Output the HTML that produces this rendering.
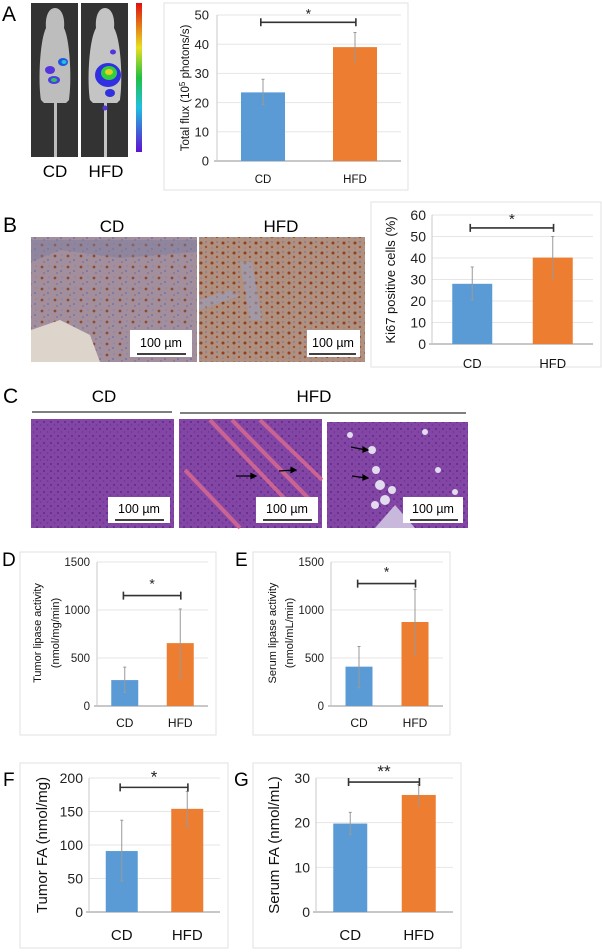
<!DOCTYPE html>
<html><head><meta charset="utf-8"><style>
html,body{margin:0;padding:0;background:#fff;}
svg{display:block;font-family:"Liberation Sans",Arial,sans-serif;}
</style></head><body>
<svg id="fig" width="602" height="952" viewBox="0 0 602 952" xmlns="http://www.w3.org/2000/svg">
<defs>
<pattern id="ihcCD" width="13" height="11" patternUnits="userSpaceOnUse">
<rect width="13" height="11" fill="#a38e9c"/><circle cx="3" cy="3" r="1.4" fill="#8a4a34"/><circle cx="9" cy="7" r="1.1" fill="#7a78a8"/><circle cx="10" cy="2" r="0.8" fill="#8482b0"/><circle cx="5" cy="9" r="0.9" fill="#7e70a0"/>
</pattern>
<pattern id="ihcHFD" width="11" height="10" patternUnits="userSpaceOnUse">
<rect width="11" height="10" fill="#b0907e"/><circle cx="3" cy="3" r="1.5" fill="#8e4020"/><circle cx="8" cy="7" r="1.2" fill="#a05030"/><circle cx="8" cy="2" r="0.9" fill="#7a78a8"/><circle cx="3" cy="8" r="0.8" fill="#8280a8"/>
</pattern>
<pattern id="he" width="7" height="7" patternUnits="userSpaceOnUse">
<rect width="7" height="7" fill="#8446a4"/><circle cx="2" cy="2" r="1.1" fill="#632f90"/><circle cx="5.5" cy="5" r="0.9" fill="#6c3696"/>
</pattern>
<linearGradient id="cbar" x1="0" y1="0" x2="0" y2="1"><stop offset="0" stop-color="#e01010"/><stop offset="0.3" stop-color="#e8e020"/><stop offset="0.5" stop-color="#20c040"/><stop offset="0.7" stop-color="#20c0e0"/><stop offset="1" stop-color="#6010d0"/></linearGradient>
</defs>

<text x="2" y="21" font-size="21">A</text>
<g>
<rect x="31" y="3" width="47" height="154" fill="#333"/>
<rect x="81" y="3" width="47" height="154" fill="#333"/>
<path d="M55,8 C48,8 45,18 46,28 C40,40 38,80 41,100 L44,103 L66,103 L69,100 C72,80 70,40 64,28 C65,18 62,8 55,8Z" fill="#bdbdbd"/><rect x="54" y="100" width="3" height="57" fill="#bdbdbd"/>
<path d="M105,8 C98,8 95,18 96,28 C89,40 87,80 90,100 L93,103 L117,103 L120,100 C123,80 121,40 114,28 C115,18 112,8 105,8Z" fill="#c4c4c4"/><rect x="104" y="100" width="3" height="57" fill="#c4c4c4"/>
<ellipse cx="50" cy="70" rx="5" ry="4" fill="#5533dd"/><ellipse cx="63" cy="62" rx="5" ry="4" fill="#2255e0"/><ellipse cx="64" cy="62" rx="2.5" ry="2" fill="#20c0e0"/><ellipse cx="54" cy="80" rx="6" ry="4" fill="#4a40e0"/><ellipse cx="54" cy="80" rx="3" ry="2" fill="#30c060"/>
<ellipse cx="108" cy="75" rx="13" ry="12" fill="#3030e0"/><ellipse cx="109" cy="73" rx="8" ry="7" fill="#30d040"/><ellipse cx="109" cy="72" rx="4" ry="3" fill="#e8d020"/><ellipse cx="110" cy="93" rx="5" ry="4" fill="#3030e0"/><ellipse cx="113" cy="52" rx="3" ry="2.5" fill="#5533dd"/><ellipse cx="105" cy="108" rx="2.5" ry="2.5" fill="#5533dd"/>
<rect x="136" y="3" width="6" height="149" fill="url(#cbar)"/>
<text x="55" y="177" font-size="17" text-anchor="middle">CD</text>
<text x="106" y="177" font-size="17" text-anchor="middle">HFD</text>
</g>

<text x="3" y="232" font-size="21">B</text>
<text x="112" y="232" font-size="17" text-anchor="middle">CD</text>
<text x="281" y="232" font-size="17" text-anchor="middle">HFD</text>
<rect x="31" y="237" width="166" height="125" fill="url(#ihcCD)"/>
<path d="M31,240 L197,240 L197,252 L120,258 L60,250 L31,262Z" fill="#7c7c9c" opacity="0.5"/>
<path d="M31,330 L60,320 L90,335 L100,362 L31,362Z" fill="#ddd4cc"/>
<rect x="199" y="237" width="166" height="125" fill="url(#ihcHFD)"/>
<path d="M240,262 L252,262 L262,320 L250,320Z M199,300 L230,290 L240,296 L199,310Z" fill="#9aa0c0" opacity="0.6"/>
<g><rect x="130" y="330" width="62" height="27" fill="#fff"/><text x="161" y="347" font-size="12.5" text-anchor="middle">100 µm</text><line x1="137" y1="354" x2="186" y2="354" stroke="#000" stroke-width="1.5"/></g>
<g><rect x="307" y="330" width="53" height="27" fill="#fff"/><text x="333" y="347" font-size="12.5" text-anchor="middle">100 µm</text><line x1="309" y1="354" x2="356" y2="354" stroke="#000" stroke-width="1.5"/></g>

<text x="3" y="403" font-size="21">C</text>
<text x="104" y="402" font-size="17" text-anchor="middle">CD</text>
<text x="314" y="402" font-size="17" text-anchor="middle">HFD</text>
<line x1="32" y1="412" x2="172" y2="412" stroke="#333" stroke-width="1.2"/>
<line x1="180" y1="413" x2="466" y2="413" stroke="#333" stroke-width="1.2"/>
<rect x="31" y="419" width="143" height="109" fill="url(#he)"/>
<rect x="179" y="419" width="143" height="109" fill="url(#he)"/>
<g stroke="#d86a90" stroke-width="4" opacity="0.85"><line x1="210" y1="420" x2="305" y2="520"/><line x1="232" y1="420" x2="315" y2="505"/><line x1="260" y1="420" x2="322" y2="480"/><line x1="185" y1="470" x2="240" y2="528"/></g>
<rect x="327" y="422" width="141" height="106" fill="url(#he)"/>
<g fill="#e2dcee"><circle cx="350" cy="435" r="3"/><circle cx="372" cy="450" r="4"/><circle cx="376" cy="470" r="4"/><circle cx="380" cy="485" r="5"/><circle cx="385" cy="500" r="5"/><circle cx="392" cy="490" r="4"/><circle cx="375" cy="505" r="4"/><circle cx="425" cy="432" r="3"/><circle cx="438" cy="470" r="3"/><circle cx="455" cy="492" r="3"/></g>
<path d="M375,528 L395,505 L415,528Z" fill="#c8b8dc"/>
<g stroke="#000" stroke-width="1.2" fill="#000"><line x1="236" y1="476" x2="254" y2="476"/><path d="M256,476 l-5,-2.5 v5z"/><line x1="279" y1="471" x2="294" y2="470"/><path d="M296,470 l-5,-2.5 v5z"/><line x1="351" y1="447" x2="366" y2="450"/><path d="M368,450 l-5,-3 v5z"/><line x1="352" y1="476" x2="366" y2="478"/><path d="M368,478 l-5,-3 v5z"/></g>
<g><rect x="108" y="497" width="62" height="26" fill="#fff"/><text x="139" y="513" font-size="12.5" text-anchor="middle">100 µm</text><line x1="115" y1="520" x2="164" y2="520" stroke="#000" stroke-width="1.5"/></g>
<g><rect x="256" y="497" width="62" height="26" fill="#fff"/><text x="287" y="513" font-size="12.5" text-anchor="middle">100 µm</text><line x1="263" y1="520" x2="312" y2="520" stroke="#000" stroke-width="1.5"/></g>
<g><rect x="403" y="497" width="60" height="26" fill="#fff"/><text x="433" y="513" font-size="12.5" text-anchor="middle">100 µm</text><line x1="410" y1="520" x2="458" y2="520" stroke="#000" stroke-width="1.5"/></g>

<text x="2" y="566" font-size="19">D</text>
<text x="235" y="566" font-size="19">E</text>
<text x="3" y="786" font-size="19">F</text>
<text x="234" y="786" font-size="19">G</text>
<g id="charts"></g>
</svg>
<script>
const categories = ["CD", "HFD"];
const aValues = [23.5, 39];
const aErrLow = [19.3, 34.3];
const aErrHigh = [28, 44];
const aTicks = [0, 10, 20, 30, 40, 50];
const bValues = [28, 40.2];
const bErrLow = [20.5, 30.5];
const bErrHigh = [35.8, 50];
const bTicks = [0, 10, 20, 30, 40, 50, 60];
const dValues = [270, 655];
const dErrLow = [140, 295];
const dErrHigh = [405, 1010];
const dTicks = [0, 500, 1000, 1500];
const eValues = [410, 875];
const eErrLow = [190, 540];
const eErrHigh = [620, 1215];
const eTicks = [0, 500, 1000, 1500];
const fValues = [91, 154];
const fErrLow = [46, 127];
const fErrHigh = [137, 180];
const fTicks = [0, 50, 100, 150, 200];
const gValues = [19.8, 26.2];
const gErrLow = [17.3, 24];
const gErrHigh = [22.3, 28.5];
const gTicks = [0, 10, 20, 30];
const bracketValues = [47.5, 54, 1150, 1275, 186, 29.1];
const starLabels = ["*", "*", "*", "*", "*", "**"];

const NS = "http://www.w3.org/2000/svg";
const root = document.getElementById("charts");
function mk(tag, attrs, parent, text) {
  const e = document.createElementNS(NS, tag);
  for (const k in attrs) e.setAttribute(k, attrs[k]);
  if (text !== undefined) e.textContent = text;
  parent.appendChild(e);
  return e;
}
function drawChart(id, L, vals, lo, hi, ticks, bi) {
  const g = mk("g", {}, root);
  
  
  const box = mk("rect", {x: L.bx, y: L.by, width: L.bw, height: L.bh, fill: "#fff", stroke: "#e2e2e2"}, g);
  
  
  const yMax = ticks[ticks.length - 1];
  const y = v => L.y0 - (v / yMax) * (L.y0 - L.yTop);
  const band = (L.x1 - L.x0) / categories.length;
  const xc = i => L.x0 + (i + 0.5) * band;
  ticks.forEach(t => {
    if (t > 0) {
      const gl = mk("line", {x1: L.x0, x2: L.x1, y1: y(t), y2: y(t), stroke: "#e6e6e6", "stroke-width": 1}, g);
      
      
    }
    const tl = mk("text", {x: L.x0 - L.tickGap, y: y(t) + L.tf * 0.36, "font-size": L.tf, "text-anchor": "end", fill: "#222"}, g, String(t));
    
    
  });
  const ax = mk("line", {x1: L.x0 - 3, x2: L.x1, y1: y(0), y2: y(0), stroke: "#a8a8a8", "stroke-width": 1.2}, g);
  
  
  const ay = mk("line", {x1: L.x0, x2: L.x0, y1: y(0), y2: y(yMax), stroke: "#c8c8c8", "stroke-width": 1}, g);
  
  
  const colors = ["#5b9bd5", "#ed7d31"];
  vals.forEach((v, i) => {
    const b = mk("rect", {x: xc(i) - L.bwid / 2, y: y(v), width: L.bwid, height: y(0) - y(v), fill: colors[i]}, g);
    
    
    const eb = mk("path", {d: `M${xc(i)},${y(lo[i])}V${y(hi[i])}M${xc(i)-1.5},${y(lo[i])}h3M${xc(i)-1.5},${y(hi[i])}h3`, stroke: "#999", "stroke-width": 1, fill: "none"}, g);
    
    
    const cl = mk("text", {x: xc(i), y: L.catY, "font-size": L.cf, "text-anchor": "middle", fill: "#111"}, g, categories[i]);
    
    
  });
  const by = y(bracketValues[bi]);
  const bx1 = xc(0) - L.bwid * 0.05, bx2 = xc(1) + L.bwid * 0.02;
  const br = mk("path", {d: `M${bx1},${by}H${bx2}M${bx1},${by-4}v8M${bx2},${by-4}v8`, stroke: "#333", "stroke-width": 1.6, fill: "none"}, g);
  
  
  const st = mk("text", {x: (bx1 + bx2) / 2, y: by - L.starGap, "font-size": L.cf + 2, "text-anchor": "middle", fill: "#222"}, g, starLabels[bi]);
  
  
  L.ylab.forEach((s, k) => {
    const t = mk("text", {x: 0, y: 0, "font-size": L.lf, "text-anchor": "middle", fill: "#111", transform: `translate(${L.labX[k]},${L.labY}) rotate(-90)`}, g);
    t.innerHTML = s;
    
    
  });
}
drawChart("chart-a-total-flux", {bx:164,by:3,bw:244,bh:187,x0:217,x1:401,y0:161,yTop:15,bwid:44,tf:13,tickGap:8,cf:11.5,catY:183,lf:11.5,labX:[189],labY:88,ylab:['Total flux (10<tspan baseline-shift="super" font-size="8">5</tspan> photons/s)'],starGap:4}, aValues, aErrLow, aErrHigh, aTicks, 0);
drawChart("chart-b-ki67", {bx:371,by:202,bw:230,bh:165,x0:432,x1:593,y0:344,yTop:215,bwid:40,tf:14,tickGap:6,cf:13,catY:368,lf:13,labX:[395],labY:280,ylab:["Ki67 positive cells (%)"],starGap:4}, bValues, bErrLow, bErrHigh, bTicks, 1);
drawChart("chart-d-tumor-lipase", {bx:20,by:552,bw:196,bh:183,x0:97,x1:208,y0:706,yTop:562,bwid:27,tf:11.5,tickGap:7,cf:12,catY:727,lf:11,labX:[41,59],labY:633,ylab:["Tumor lipase activity","(nmol/mg/min)"],starGap:7}, dValues, dErrLow, dErrHigh, dTicks, 2);
drawChart("chart-e-serum-lipase", {bx:253,by:552,bw:197,bh:183,x0:331,x1:443,y0:706,yTop:562,bwid:27,tf:11.5,tickGap:7,cf:12,catY:727,lf:11,labX:[276,293],labY:633,ylab:["Serum lipase activity","(nmol/mL/min)"],starGap:7}, eValues, eErrLow, eErrHigh, eTicks, 3);
drawChart("chart-f-tumor-fa", {bx:20,by:763,bw:208,bh:185,x0:89,x1:220,y0:912,yTop:778,bwid:32,tf:14,tickGap:6,cf:15,catY:940,lf:15,labX:[47],labY:845,ylab:["Tumor FA (nmol/mg)"],starGap:5}, fValues, fErrLow, fErrHigh, fTicks, 4);
drawChart("chart-g-serum-fa", {bx:253,by:763,bw:208,bh:185,x0:316,x1:453,y0:912,yTop:778,bwid:34,tf:14,tickGap:6,cf:15,catY:940,lf:15,labX:[279],labY:845,ylab:["Serum FA (nmol/mL)"],starGap:5}, gValues, gErrLow, gErrHigh, gTicks, 5);
</script>
</body></html>
